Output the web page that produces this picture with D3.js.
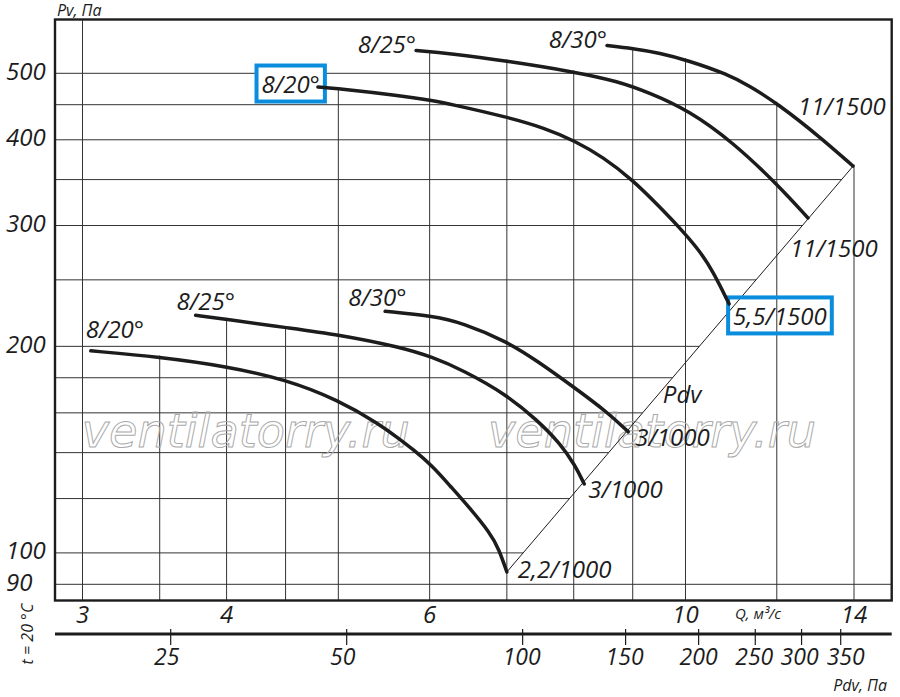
<!DOCTYPE html>
<html>
<head>
<meta charset="utf-8">
<script src="https://cdn.jsdelivr.net/npm/d3@7"></script>
<style>
  body { margin: 0; background: #fff; }
  svg { display: block; font-family: "Open Sans", sans-serif; font-style: italic; }
</style>
</head>
<body>
<svg id="chart" width="900" height="697"></svg>
<script>
/* data: Q, m3/s and Pv, Pa */
const lowQ20 = [3.05, 3.50, 4.00, 4.50, 5.00, 5.43, 5.65, 5.80, 6.03, 6.25, 6.50, 6.77, 6.89, 7.00]
const lowP20 = [197, 193, 187, 179, 167, 154, 146.5, 141.7, 134, 125.2, 116.3, 106.9, 101.3, 93.8]
const lowQ25 = [3.76, 4.00, 4.50, 5.00, 5.65, 6.03, 6.41, 7.00, 7.44, 7.78, 8.02, 8.17]
const lowP25 = [222, 219, 213, 208, 199.6, 193, 184.7, 170, 156, 144.6, 134.3, 126]
const lowQ30 = [5.49, 6.03, 6.41, 7.00, 7.44, 8.02, 8.55, 8.92]
const lowP30 = [225, 221.5, 216.4, 203.3, 190.4, 173.9, 160.5, 150.1]
const highQ20 = [4.80, 5.00, 5.65, 6.03, 6.25, 7.00, 7.55, 8.02, 8.48, 9.00, 9.50, 9.89, 10.29, 10.56, 10.91]
const highP20 = [477.5, 475.1, 464.1, 456.3, 451.0, 431.8, 416.1, 398.4, 377.6, 349.6, 319.2, 297.5, 275.5, 257.5, 230.6]
const highQ25 = [5.84, 6.25, 7.00, 8.02, 8.72, 9.32, 10.05, 10.99, 12.05, 12.77]
const highP25 = [539.8, 534.4, 521.1, 502.2, 487.2, 468.0, 442.0, 397.1, 342.6, 307.7]
const highQ30 = [8.55, 9.00, 9.50, 10.05, 10.86, 11.37, 12.03, 13.08, 13.97]
const highP30 = [548.9, 543.4, 535.3, 522.0, 498.9, 479.1, 451.0, 403.8, 366.3]
const pdvLineQ = [7.00, 13.97]
const pdvLineP = [93.8, 366]

const startNames = ['8/20°', '8/25°', '8/30°', '8/20°', '8/25°', '8/30°']
const endNames = ['2,2/1000', '3/1000', '3/1000', '5,5/1500', '11/1500', '11/1500']

/* ticks */
const qGrid = [3, 3.5, 4, 4.5, 5, 6, 7, 8, 9, 10, 12, 14]
const qLabels = [3, 4, 6, 10, 14]
const pGrid = [90, 100, 120, 140, 160, 180, 200, 250, 300, 350, 400, 450, 500]
const pLabels = [90, 100, 200, 300, 400, 500]
const pdvTicks = [25, 50, 100, 150, 200, 250, 300, 350]

/* label placement (offset from curve start / end, px) */
const startPos = [[-5, -13, 'start'], [-19, -5, 'start'], [-37, -5.5, 'start'], [2, 6, 'end'], [0, 2.5, 'end'], [0, 3, 'end']]
const endPos = [[11, 6], [4, 14], [7, 14], [4, 21], [-18, 39], [-55, -51]]
const pdvNudge = [-4, -4, -1, -1, 0, -1, -2, 5]
const boxedStart = [3]
const boxedEnd = [3]

const ink = '#1c1c1c'
const frame = {left: 55, right: 891.7, top: 19.5, bottom: 600.5}

const svg = d3.select('#chart')

/* scales */
const x = d3.scaleLog().domain([3, 14]).range([82.5, 854])
const y = d3.scaleLog().domain([90, 500]).range([584.3, 73.3])
const xPdv = d3.scaleLog().domain([25, 350]).range([170.7, 840.7])

const curves = [[lowQ20, lowP20], [lowQ25, lowP25], [lowQ30, lowP30],
                [highQ20, highP20], [highQ25, highP25], [highQ30, highP30]]
const pts = curves.map(([qs, ps]) => qs.map((q, i) => [x(q), y(ps[i])]))
const pdvPts = pdvLineQ.map((q, i) => [x(q), y(pdvLineP[i])])

/* grid stops under the curves and at the Pdv line */
function topAt(px) {
  let best = Infinity
  pts.forEach(line => {
    const first = line[0][0], last = line[line.length - 1][0]
    if (px < first - 2 || px > last + 2) return
    const cx = Math.max(first, Math.min(last, px))
    for (let i = 0; i < line.length - 1; i++) {
      const [x0, y0] = line[i], [x1, y1] = line[i + 1]
      if (cx >= x0 && cx <= x1) best = Math.min(best, y0 + (y1 - y0) * (cx - x0) / (x1 - x0) - 1.5)
    }
  })
  return best === Infinity ? frame.top : best
}
function rightAt(py) {
  let best = -Infinity
  const test = (line, extra) => {
    for (let i = 0; i < line.length - 1; i++) {
      const [x0, y0] = line[i], [x1, y1] = line[i + 1]
      const lo = Math.min(y0, y1), hi = Math.max(y0, y1)
      if (py >= lo && py <= hi) best = Math.max(best, x0 + (x1 - x0) * (py - y0) / (y1 - y0) + extra)
    }
  }
  pts.forEach(line => test(line, 1.5))
  test(pdvPts, 0)
  return best === -Infinity ? frame.right : best
}

const grid = svg.append('g').attr('stroke', '#333').attr('stroke-width', 1)
grid.selectAll('.v').data(qGrid).join('line')
  .attr('x1', d => x(d)).attr('x2', d => x(d))
  .attr('y1', frame.bottom).attr('y2', d => topAt(x(d)))
grid.selectAll('.h').data(pGrid).join('line')
  .attr('x1', frame.left).attr('x2', d => rightAt(y(d)))
  .attr('y1', d => y(d)).attr('y2', d => y(d))

/* watermark */
svg.selectAll('.wm').data([81.7, 488]).join('text')
  .attr('x', d => d).attr('y', 447)
  .attr('textLength', 328).attr('lengthAdjust', 'spacingAndGlyphs')
  .style('font-family', '"DejaVu Sans", sans-serif').style('font-size', '47px')
  .attr('fill', 'none').attr('stroke', '#aaa').attr('stroke-width', 1)
  .text('ventilatorry.ru')

/* Pdv line */
svg.append('line')
  .attr('x1', pdvPts[0][0]).attr('y1', pdvPts[0][1])
  .attr('x2', pdvPts[1][0]).attr('y2', pdvPts[1][1])
  .attr('stroke', ink).attr('stroke-width', 1)

/* frame */
svg.append('rect')
  .attr('x', frame.left).attr('y', frame.top)
  .attr('width', frame.right - frame.left).attr('height', frame.bottom - frame.top)
  .attr('fill', 'none').attr('stroke', ink).attr('stroke-width', 2.4)

/* curve labels */
const labelG = svg.append('g').attr('fill', ink).style('font-size', '24px')

const startText = labelG.selectAll('.s').data(pts).join('text')
  .attr('x', (d, i) => d[0][0] + startPos[i][0])
  .attr('y', (d, i) => d[0][1] + startPos[i][1])
  .attr('text-anchor', (d, i) => startPos[i][2])
  .text((d, i) => startNames[i])

const endText = labelG.selectAll('.e').data(pts).join('text')
  .attr('x', (d, i) => d[d.length - 1][0] + endPos[i][0])
  .attr('y', (d, i) => d[d.length - 1][1] + endPos[i][1])
  .text((d, i) => endNames[i])

/* blue boxes round two labels */
function boxAround(node, fill) {
  const b = node.getBBox()
  svg.insert('rect', () => labelG.node())
    .attr('x', b.x - 5).attr('y', b.y - 1.5)
    .attr('width', b.width + 10).attr('height', b.height + 3)
    .attr('fill', fill).attr('stroke', '#0a8ddd').attr('stroke-width', 4)
}
boxedStart.forEach(i => boxAround(startText.nodes()[i], '#fff'))
boxedEnd.forEach(i => boxAround(endText.nodes()[i], 'none'))

/* curves */
const line = d3.line().curve(d3.curveBasis)
svg.append('g').selectAll('path').data(pts).join('path')
  .attr('d', line)
  .attr('fill', 'none').attr('stroke', ink).attr('stroke-width', 3.5)
  .attr('stroke-linecap', 'round')

/* Pdv label on the line */
const t = 0.416
labelG.append('text')
  .attr('x', pdvPts[0][0] + t * (pdvPts[1][0] - pdvPts[0][0]) + 12)
  .attr('y', pdvPts[0][1] + t * (pdvPts[1][1] - pdvPts[0][1]))
  .text('Pdv')

/* Y ticks */
const axisG = svg.append('g').attr('fill', ink)
axisG.selectAll('.yl').data(pLabels).join('text')
  .attr('x', 6).attr('y', d => y(d) + 6.5)
  .style('font-size', '24px')
  .text(d => d)

/* Q ticks */
axisG.selectAll('.xl').data(qLabels).join('text')
  .attr('x', d => x(d)).attr('y', 623)
  .attr('text-anchor', 'middle').style('font-size', '24px')
  .text(d => d)

/* Pdv axis */
svg.append('line')
  .attr('x1', frame.left).attr('x2', frame.right)
  .attr('y1', 634).attr('y2', 634)
  .attr('stroke', ink).attr('stroke-width', 3)
svg.selectAll('.pt').data(pdvTicks).join('line')
  .attr('x1', d => xPdv(d)).attr('x2', d => xPdv(d))
  .attr('y1', 629).attr('y2', 645)
  .attr('stroke', ink).attr('stroke-width', 1.2)
axisG.selectAll('.pl').data(pdvTicks).join('text')
  .attr('x', (d, i) => xPdv(d) + pdvNudge[i]).attr('y', 665)
  .attr('text-anchor', 'middle').style('font-size', '23px')
  .text(d => d)

/* titles */
axisG.append('text').attr('x', 57).attr('y', 16).style('font-size', '16px').text('Pv, Па')
axisG.append('text').attr('x', 735).attr('y', 619).style('font-size', '15px').text('Q, м³/с')
axisG.append('text').attr('x', 887).attr('y', 691).attr('text-anchor', 'end').style('font-size', '16px').text('Pdv, Па')
axisG.append('text')
  .attr('transform', 'translate(33,634) rotate(-90)')
  .attr('text-anchor', 'middle').style('font-size', '16px')
  .text('t = 20 °C')
</script>
</body>
</html>
